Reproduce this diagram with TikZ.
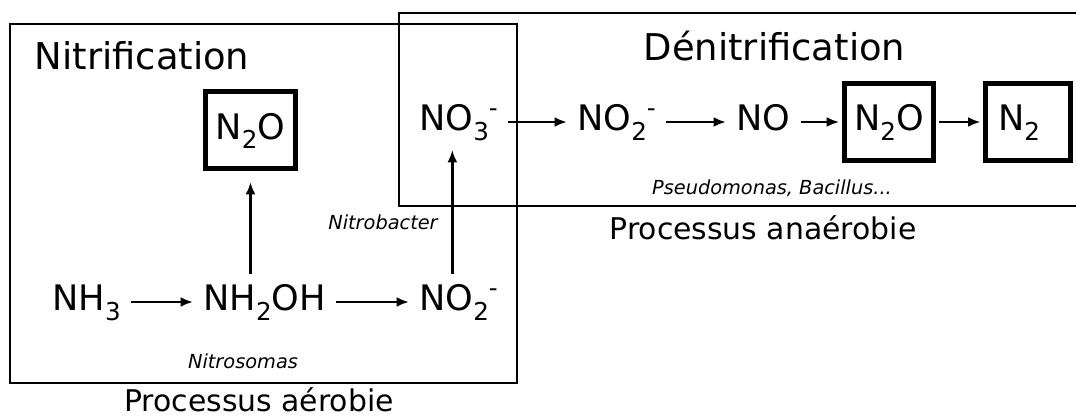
\documentclass[tikz,border=0pt]{standalone}
\usepackage{fontspec}
\setmainfont{DejaVu Sans}
\usetikzlibrary{arrows.meta}

\newcommand{\chsub}[1]{\raisebox{-0.27em}{\fontsize{14}{16}\selectfont #1}}
\newcommand{\chsup}[1]{\raisebox{0.4em}{\fontsize{14}{16}\selectfont #1}}

\tikzset{
  region/.style={line width=0.055cm},
  chem/.style={font=\fontsize{20}{24}\selectfont, inner sep=0.2cm, text height=15pt, text depth=5pt},
  gasbox/.style={chem, draw, line width=0.1cm, minimum width=1.7cm, minimum height=1.54cm},
  title/.style={font=\fontsize{21}{25}\selectfont, inner sep=0pt, anchor=base},
  process/.style={font=\fontsize{17}{20}\selectfont, inner sep=0pt, anchor=base},
  germ/.style={font=\fontsize{11}{13}\selectfont\itshape, inner sep=0pt, anchor=base},
  flow/.style={-{Latex[length=0.25cm,width=0.2cm]}, line width=0.05cm}
}

\begin{document}
\begin{tikzpicture}
    \useasboundingbox (0,0) rectangle (21.52,8.34);
    % zones
    \draw[region] (0.2,0.68) rectangle (10.34,7.86);
    \draw[region] (21.6,8.08) -- (7.98,8.08) -- (7.98,4.22) -- (21.6,4.22);
    \node[title] (nitri) at (2.84,6.94) {Nitrification};
    \node[title] (denitri) at (15.49,7.12) {Dénitrification};
    \node[process] (aerob) at (5.18,0.1) {Processus aérobie};
    \node[process] (anaerob) at (15.26,3.54) {Processus anaérobie};
    % nitrification
    \node[chem, anchor=west] (nh3) at (0.84,2.3) {NH\chsub{3}};
    \node[chem, anchor=west] (nh2oh) at (3.86,2.3) {NH\chsub{2}OH};
    \node[chem, anchor=west] (no2a) at (8.18,2.3) {NO\chsub{2}\chsup{-}};
    \node[gasbox] (n2oA) at (5.01,5.73) {N\chsub{2}O};
    \node[chem, anchor=west] (no3) at (8.18,5.9) {NO\chsub{3}\chsup{-}};
    \node[germ] (nitroso) at (4.86,0.96) {Nitrosomas};
    \node[germ] (nitrobac) at (7.66,3.74) {Nitrobacter};
    % denitrification
    \node[chem, anchor=west] (no2b) at (11.34,5.9) {NO\chsub{2}\chsup{-}};
    \node[chem, anchor=west] (no) at (14.52,5.9) {NO};
    \node[gasbox] (n2oB) at (17.78,5.9) {N\chsub{2}O};
    \node[gasbox, text width=1.2cm] (n2) at (20.56,5.9) {N\chsub{2}};
    \node[germ] (pseudo) at (15.44,4.44) {Pseudomonas, Bacillus...};
    % fletxes
    \draw[flow] (nh3) -- (nh2oh);
    \draw[flow] (nh2oh) -- (no2a);
    \draw[flow, shorten >=0.21cm] (nh2oh.north -| n2oA.south) -- (n2oA.south);
    \draw[flow] ([xshift=-0.125cm]no2a.north) -- ([xshift=-0.125cm]no3.south);
    \draw[flow] (no3) -- (no2b);
    \draw[flow] (no2b) -- (no);
    \draw[flow, shorten >=0.05cm] (no) -- (n2oB);
    \draw[flow, shorten <=0.05cm, shorten >=0.05cm] (n2oB) -- (n2);
\end{tikzpicture}
\end{document}
